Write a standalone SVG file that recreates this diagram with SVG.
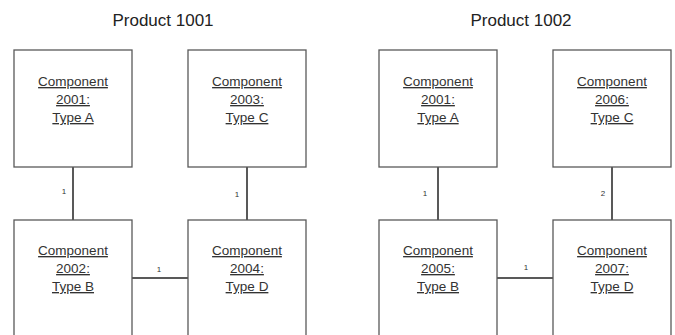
<svg xmlns="http://www.w3.org/2000/svg" width="675" height="335" viewBox="0 0 675 335">
<style>
.box{fill:#fff;stroke:#595959;stroke-width:1.3}
.conn{stroke:#595959;stroke-width:2;fill:none}
.t{font-family:"Liberation Sans",Arial,sans-serif;font-size:13.5px;fill:#333;text-anchor:middle;text-decoration:underline}
.title{font-family:"Liberation Sans",Arial,sans-serif;font-size:17px;fill:#222;text-anchor:middle}
.lbl{font-family:"Liberation Sans",Arial,sans-serif;font-size:8px;fill:#333;text-anchor:middle}
</style>
<rect width="675" height="335" fill="#fff"/>
<text class="title" x="163" y="26">Product 1001</text>
<text class="title" x="521" y="26">Product 1002</text>
<g id="connectors">
<line class="conn" x1="73" y1="167" x2="73" y2="220"/>
<line class="conn" x1="247" y1="167" x2="247" y2="220"/>
<line class="conn" x1="132" y1="278" x2="188" y2="278"/>
<line class="conn" x1="438" y1="167" x2="438" y2="220"/>
<line class="conn" x1="612" y1="167" x2="612" y2="220"/>
<line class="conn" x1="497" y1="278" x2="553" y2="278"/>
<text class="lbl" x="64" y="194">1</text>
<text class="lbl" x="237" y="197">1</text>
<text class="lbl" x="159" y="272">1</text>
<text class="lbl" x="425" y="196">1</text>
<text class="lbl" x="603" y="196">2</text>
<text class="lbl" x="526" y="270">1</text>
</g>
<g id="p1001-c2001">
<rect class="box" x="14" y="50" width="118" height="117"/>
<text class="t" x="73" y="86">Component</text><text class="t" x="73" y="104">2001:</text><text class="t" x="73" y="122">Type A</text>
</g>
<g id="p1001-c2003">
<rect class="box" x="188" y="50" width="118" height="117"/>
<text class="t" x="247" y="86">Component</text><text class="t" x="247" y="104">2003:</text><text class="t" x="247" y="122">Type C</text>
</g>
<g id="p1001-c2002">
<rect class="box" x="14" y="220" width="118" height="130"/>
<text class="t" x="73" y="255">Component</text><text class="t" x="73" y="273">2002:</text><text class="t" x="73" y="291">Type B</text>
</g>
<g id="p1001-c2004">
<rect class="box" x="188" y="220" width="118" height="130"/>
<text class="t" x="247" y="255">Component</text><text class="t" x="247" y="273">2004:</text><text class="t" x="247" y="291">Type D</text>
</g>
<g id="p1002-c2001">
<rect class="box" x="379" y="50" width="118" height="117"/>
<text class="t" x="438" y="86">Component</text><text class="t" x="438" y="104">2001:</text><text class="t" x="438" y="122">Type A</text>
</g>
<g id="p1002-c2006">
<rect class="box" x="553" y="50" width="118" height="117"/>
<text class="t" x="612" y="86">Component</text><text class="t" x="612" y="104">2006:</text><text class="t" x="612" y="122">Type C</text>
</g>
<g id="p1002-c2005">
<rect class="box" x="379" y="220" width="118" height="130"/>
<text class="t" x="438" y="255">Component</text><text class="t" x="438" y="273">2005:</text><text class="t" x="438" y="291">Type B</text>
</g>
<g id="p1002-c2007">
<rect class="box" x="553" y="220" width="118" height="130"/>
<text class="t" x="612" y="255">Component</text><text class="t" x="612" y="273">2007:</text><text class="t" x="612" y="291">Type D</text>
</g>
</svg>
